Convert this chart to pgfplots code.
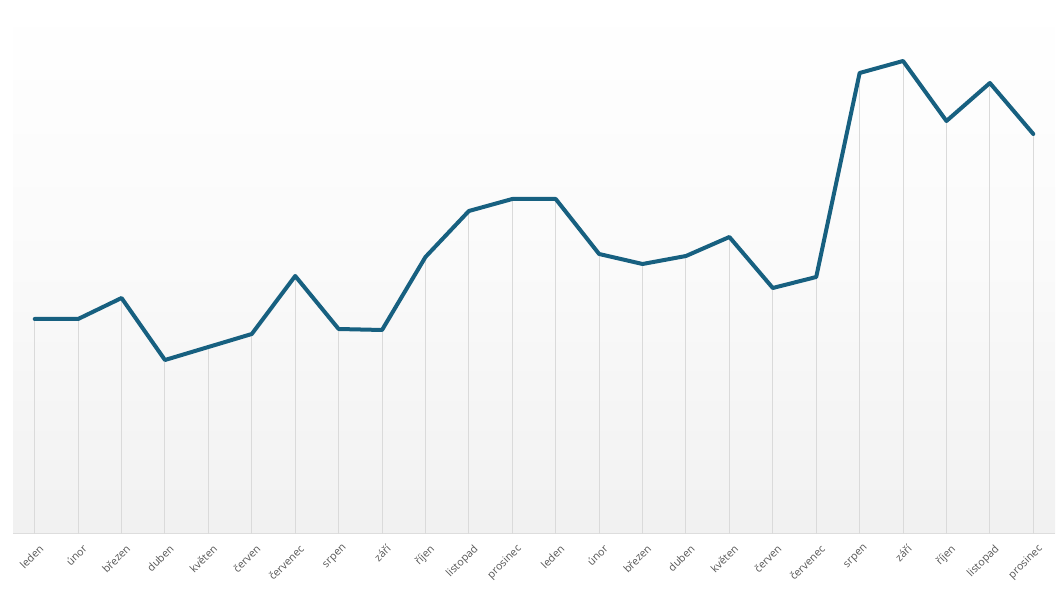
\documentclass[border=0pt]{standalone}
\usepackage{pgfplots}
\pgfplotsset{compat=1.18}
\usepackage{fontspec}
\setmainfont{Open Sans}
\definecolor{linec}{RGB}{23,96,128}
\definecolor{dropc}{RGB}{218,218,218}
\definecolor{axc}{RGB}{221,221,221}
\definecolor{labc}{RGB}{85,85,85}
\begin{document}
\begin{tikzpicture}[x=1pt,y=1pt]
\begin{axis}[
  at={(9.75pt,41.25pt)}, anchor=south west,
  scale only axis, width=781.5pt, height=400.5pt,
  xmin=-0.5, xmax=23.5, ymin=0, ymax=534,
  axis x line*=bottom, axis y line=none,
  axis line style={draw=axc, line width=0.75pt, -},
  axis background/.style={shade, top color=white, bottom color={rgb,255:red,241;green,241;blue,241}, middle color={rgb,255:red,250;green,250;blue,250}},
  xtick=data, major tick length=0pt,
  xticklabels={leden,únor,březen,duben,květen,červen,červenec,srpen,září,říjen,listopad,prosinec,leden,únor,březen,duben,květen,červen,červenec,srpen,září,říjen,listopad,prosinec},
  xticklabel style={rotate=45, anchor=north east, font=\fontsize{8}{9}\selectfont, text=labc, inner sep=1pt, yshift=-6pt, xshift=-2pt},
  clip=false,
]
\addplot[ycomb, draw=dropc, line width=0.75pt, mark=none] coordinates {
(0,215) (1,215) (2,236) (3,174) (4,187) (5,200) (6,258) (7,205) (8,204) (9,277) (10,323) (11,335)
(12,335) (13,280) (14,270) (15,278) (16,297) (17,246) (18,257) (19,461) (20,473) (21,413) (22,451) (23,400)};
\addplot[draw=linec, line width=3pt, mark=none, line join=round, line cap=round] coordinates {
(0,215) (1,215) (2,236) (3,174) (4,187) (5,200) (6,258) (7,205) (8,204) (9,277) (10,323) (11,335)
(12,335) (13,280) (14,270) (15,278) (16,297) (17,246) (18,257) (19,461) (20,473) (21,413) (22,451) (23,400)};
\end{axis}
\pgfresetboundingbox
\path[use as bounding box] (0pt,0pt) rectangle (795pt,441.75pt);
\end{tikzpicture}
\end{document}
